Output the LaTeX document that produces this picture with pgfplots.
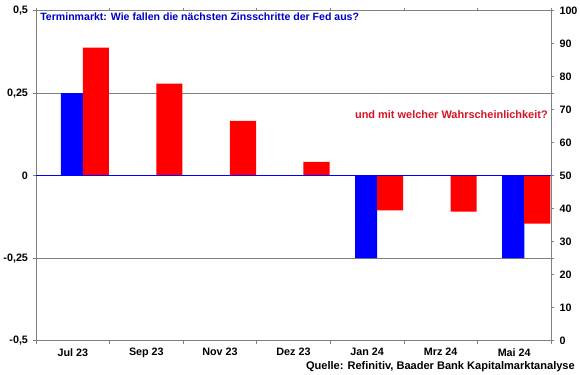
\documentclass[border=0pt]{standalone}
\usepackage{fontspec}
\setmainfont{Liberation Sans}
\usepackage{pgfplots}
\pgfplotsset{compat=1.18}
\usepackage{pgfplotstable}
\definecolor{tblue}{RGB}{0,0,200}
\definecolor{tred}{RGB}{215,20,35}
\definecolor{axgray}{RGB}{128,128,128}
\pgfplotstableread{
x b
0 0.25
4 -0.25
6 -0.25
}\bluedata
\pgfplotstableread{
x p
0 88.8
1 77.9
2 66.6
3 54.2
4 39.5
5 39.1
6 35.5
}\reddata
\begin{document}
\begin{tikzpicture}
\begin{axis}[
  width=515bp, height=330bp, scale only axis, at={(0,0)}, anchor=south west,
  xmin=-0.5, xmax=6.5, ymin=-0.5, ymax=0.5,
  axis line style={axgray, line width=0.7pt},
  xtick={0,...,6},
  xticklabels={Jul 23,Sep 23,Nov 23,Dez 23,Jan 24,Mrz 24,Mai 24},
  major x tick style={draw=none},
  minor xtick={-0.5,0.5,...,6.5},
  minor x tick style={axgray, line width=0.7pt},
  minor tick length=3bp,
  major tick length=3bp,
  tick align=outside,
  ytick={-0.5,-0.25,0,0.25,0.5},
  yticklabels={{-0,5},{-0,25},{0},{0,25},{0,5}},
  yticklabel style={xshift=-1.5bp},
  xticklabel style={yshift=-1bp},
  y tick style={axgray, line width=0.7pt},
  ymajorgrids, grid style={axgray, line width=0.7pt},
  tick label style={font=\fontsize{10.8}{12}\selectfont\bfseries, text=black},
  clip=false,
]
\addplot[ybar, bar width=0.3, bar shift=-0.013, fill=blue, draw=none] table[x=x,y=b]{\bluedata};
\addplot[ybar, bar width=0.355, bar shift=0.313, fill=red, draw=none] table[x=x,y expr=(\thisrow{p}-50)/100]{\reddata};
\addplot[blue, line width=1.4pt] coordinates {(-0.5,0) (6.5,0)};
\node[anchor=base west, text=tblue, font=\fontsize{10.6}{13}\selectfont\bfseries, inner sep=0pt] at (rel axis cs:0.008,0.9697) {Terminmarkt: Wie fallen die nächsten Zinsschritte der Fed aus?};
\node[anchor=base east, text=tred, font=\fontsize{11}{13}\selectfont\bfseries, inner sep=0pt] at (rel axis cs:0.994,0.672) {und mit welcher Wahrscheinlichkeit?};
\node[anchor=base east, text=black, font=\fontsize{11.1}{13}\selectfont\bfseries, inner sep=0pt] at (rel axis cs:1.0466,-0.0873) {Quelle: Refinitiv, Baader Bank Kapitalmarktanalyse};
\end{axis}
\begin{axis}[
  width=515bp, height=330bp, scale only axis, at={(0,0)}, anchor=south west,
  xmin=-0.5, xmax=6.5, ymin=0, ymax=100,
  axis y line*=right, axis x line=none,
  axis line style={axgray, line width=0.7pt},
  ytick={0,10,...,100},
  yticklabels={0,10,20,30,40,50,60,70,80,90,100},
  tick align=outside, major tick length=3bp,
  y tick style={axgray, line width=0.7pt},
  yticklabel style={font=\fontsize{10.8}{12}\selectfont\bfseries, text=black, xshift=2bp},
]
\end{axis}
\pgfresetboundingbox
\path[use as bounding box] (-36bp,-34.3bp) rectangle (544bp,340.7bp);
\end{tikzpicture}
\end{document}
